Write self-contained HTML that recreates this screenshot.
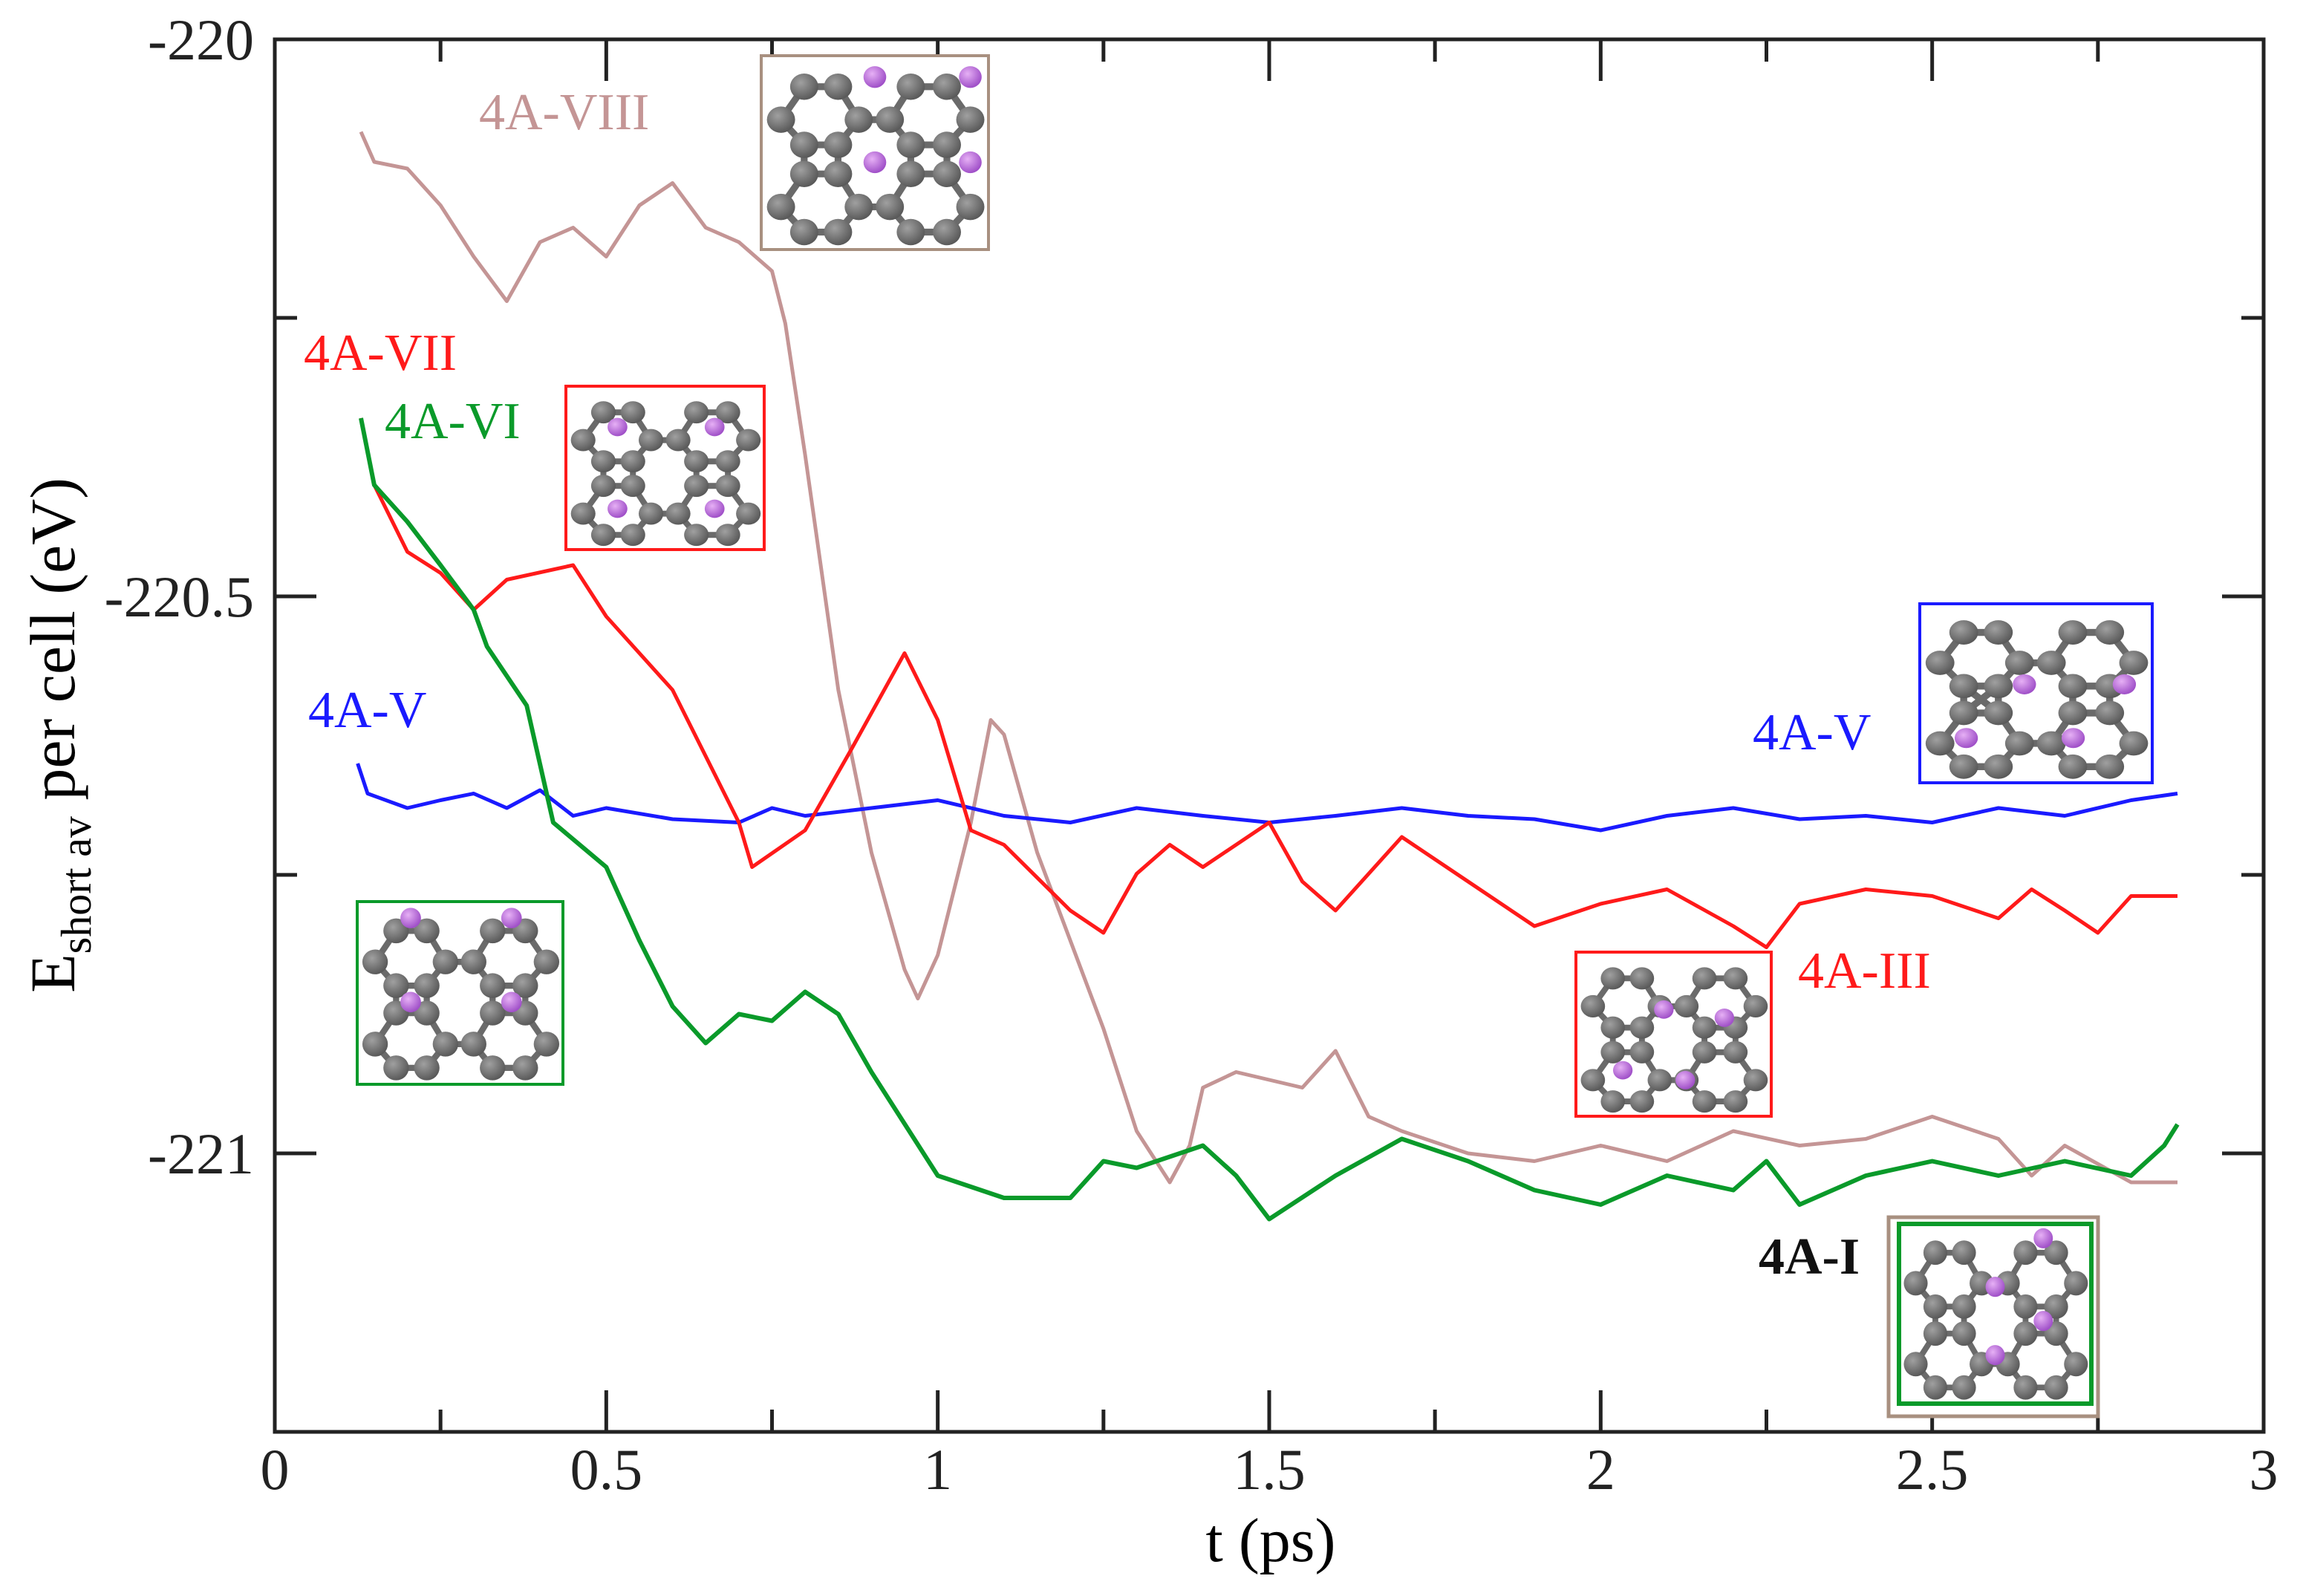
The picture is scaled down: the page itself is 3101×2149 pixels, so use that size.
<!DOCTYPE html>
<html><head><meta charset="utf-8"><style>
html,body{margin:0;padding:0;background:#fff;}
svg{display:block;}
text{font-family:"Liberation Serif",serif;}
</style></head><body>
<svg id="chart" width="3101" height="2149" viewBox="0 0 3101 2149" xmlns="http://www.w3.org/2000/svg">
<defs>
<radialGradient id="gC" cx="0.38" cy="0.35" r="0.65"><stop offset="0" stop-color="#a0a0a0"/><stop offset="1" stop-color="#5a5a5a"/></radialGradient>
<radialGradient id="gP" cx="0.38" cy="0.35" r="0.65"><stop offset="0" stop-color="#e6b0f5"/><stop offset="1" stop-color="#a050c8"/></radialGradient>
</defs>
<g id="plot"></g>
<text x="1711" y="2102" font-size="84" text-anchor="middle">t (ps)</text>
<text transform="translate(100,990) rotate(-90)" font-size="86" text-anchor="middle">E<tspan font-size="58" dy="22">short av</tspan><tspan dy="-22"> per cell (eV)</tspan></text>
</svg>
<script>
const tVIII=[0.13,0.15,0.2,0.25,0.3,0.35,0.4,0.45,0.5,0.55,0.6,0.65,0.7,0.75,0.77,0.8,0.85,0.9,0.95,0.97,1.0,1.05,1.08,1.1,1.15,1.2,1.25,1.3,1.35,1.38,1.4,1.45,1.5,1.55,1.6,1.65,1.7,1.8,1.9,2.0,2.1,2.2,2.3,2.4,2.5,2.6,2.65,2.7,2.8,2.87];
const eVIII=[-220.083,-220.110,-220.116,-220.149,-220.195,-220.235,-220.182,-220.169,-220.195,-220.149,-220.129,-220.169,-220.182,-220.208,-220.255,-220.373,-220.584,-220.730,-220.835,-220.861,-220.822,-220.703,-220.611,-220.624,-220.730,-220.809,-220.888,-220.980,-221.026,-220.993,-220.941,-220.927,-220.934,-220.941,-220.908,-220.967,-220.980,-221.000,-221.007,-220.993,-221.007,-220.980,-220.993,-220.987,-220.967,-220.987,-221.020,-220.993,-221.026,-221.026];
const tVII=[0.13,0.15,0.2,0.25,0.3,0.35,0.45,0.5,0.6,0.7,0.72,0.8,0.87,0.95,1.0,1.05,1.1,1.2,1.25,1.3,1.35,1.4,1.5,1.55,1.6,1.7,1.8,1.9,2.0,2.1,2.2,2.25,2.3,2.4,2.5,2.6,2.65,2.7,2.75,2.8,2.87];
const eVII=[-220.340,-220.400,-220.460,-220.479,-220.512,-220.485,-220.472,-220.518,-220.584,-220.703,-220.743,-220.710,-220.637,-220.551,-220.611,-220.710,-220.723,-220.782,-220.802,-220.749,-220.723,-220.743,-220.703,-220.756,-220.782,-220.716,-220.756,-220.796,-220.776,-220.763,-220.796,-220.815,-220.776,-220.763,-220.769,-220.789,-220.763,-220.782,-220.802,-220.769,-220.769];
const tVI=[0.13,0.15,0.2,0.25,0.3,0.32,0.38,0.42,0.5,0.55,0.6,0.65,0.7,0.75,0.8,0.85,0.9,1.0,1.1,1.2,1.25,1.3,1.4,1.45,1.5,1.6,1.7,1.8,1.9,2.0,2.1,2.2,2.25,2.3,2.4,2.5,2.6,2.7,2.8,2.85,2.87];
const eVI=[-220.340,-220.400,-220.433,-220.472,-220.512,-220.545,-220.598,-220.703,-220.743,-220.809,-220.868,-220.901,-220.875,-220.881,-220.855,-220.875,-220.927,-221.020,-221.040,-221.040,-221.007,-221.013,-220.993,-221.020,-221.059,-221.020,-220.987,-221.007,-221.033,-221.046,-221.020,-221.033,-221.007,-221.046,-221.020,-221.007,-221.020,-221.007,-221.020,-220.993,-220.974];
const tV=[0.125,0.14,0.2,0.25,0.3,0.35,0.4,0.45,0.5,0.6,0.7,0.75,0.8,0.9,1.0,1.1,1.2,1.3,1.4,1.5,1.6,1.7,1.8,1.9,2.0,2.1,2.2,2.3,2.4,2.5,2.6,2.7,2.8,2.87];
const eV=[-220.650,-220.677,-220.690,-220.683,-220.677,-220.690,-220.674,-220.697,-220.690,-220.700,-220.703,-220.690,-220.697,-220.690,-220.683,-220.697,-220.703,-220.690,-220.697,-220.703,-220.697,-220.690,-220.697,-220.700,-220.710,-220.697,-220.690,-220.700,-220.697,-220.703,-220.690,-220.697,-220.683,-220.677];
const xTicks=[0,0.5,1,1.5,2,2.5,3];
const xTickLabels=["0","0.5","1","1.5","2","2.5","3"];
const yTicks=[-220,-220.5,-221];
const yTickLabels=["-220","-220.5","-221"];

const X0=370,X1=3048,Y0=53,Y1=1928,TMIN=0,TMAX=3,EMAX=-220,EMIN=-221.25;
const NS="http://www.w3.org/2000/svg";
function xs(t){return X0+(t-TMIN)/(TMAX-TMIN)*(X1-X0);}
function ys(e){return Y0+(EMAX-e)/(EMAX-EMIN)*(Y1-Y0);}
const svg=document.getElementById('chart');
const plot=document.getElementById('plot');
function mk(tag,attrs,parent){const el=document.createElementNS(NS,tag);for(const k in attrs)el.setAttribute(k,attrs[k]);(parent||plot).appendChild(el);return el;}

function series(ts,es,color,name,w){
  let d='';ts.forEach((t,i)=>{d+=(i?'L':'M')+xs(t).toFixed(1)+','+ys(es[i]).toFixed(1);});
  const p=mk('path',{d:d,fill:'none',stroke:color,'stroke-width':w,'stroke-linejoin':'round'});
  
  
}
series(tVIII,eVIII,'#c49595','series-4a-viii',5);
series(tV,eV,'#1a1aff','series-4a-v',5);
series(tVII,eVII,'#ff1a1a','series-4a-vii-iii',5);
series(tVI,eVI,'#0a9a2a','series-4a-vi-i',6);

const fr=mk('rect',{x:X0,y:Y0,width:X1-X0,height:Y1-Y0,fill:'none',stroke:'#222','stroke-width':5});


for(let i=1;i<12;i++){
  const t=i*0.25,x=xs(t),L=(i%2==0)?56:30;
  const a=mk('line',{x1:x,y1:Y1,x2:x,y2:Y1-L,stroke:'#222','stroke-width':5});
  
  
  const b=mk('line',{x1:x,y1:Y0,x2:x,y2:Y0+L,stroke:'#222','stroke-width':5});
  
  
}
for(let i=1;i<5;i++){
  const e=-220-i*0.25,y=ys(e),L=(i%2==0)?56:30;
  const a=mk('line',{x1:X0,y1:y,x2:X0+L,y2:y,stroke:'#222','stroke-width':5});
  
  
  const b=mk('line',{x1:X1,y1:y,x2:X1-L,y2:y,stroke:'#222','stroke-width':5});
  
  
}
xTicks.forEach((t,i)=>{
  const tx=mk('text',{x:xs(t),y:2005,'font-size':78,'text-anchor':'middle',fill:'#222'},svg);
  tx.textContent=xTickLabels[i];
  
  
});
yTicks.forEach((e,i)=>{
  const tx=mk('text',{x:342,y:ys(e)+27,'font-size':78,'text-anchor':'end',fill:'#222'},svg);
  tx.textContent=yTickLabels[i];
  
  
});

function lab(txt,x,y,color,name,bold){
  const tx=mk('text',{x:x,y:y,'font-size':70,fill:color,'font-weight':bold?'bold':'normal'},svg);
  tx.textContent=txt;
  
  
}
lab('4A-VIII',645,174,'#c49595','label-4a-viii');
lab('4A-VII',409,498,'#ff1a1a','label-4a-vii');
lab('4A-VI',518,590,'#0a9a2a','label-4a-vi');
lab('4A-V',415,979,'#1a1aff','label-4a-v-left');
lab('4A-V',2360,1009,'#1a1aff','label-4a-v-right');
lab('4A-III',2421,1330,'#ff1a1a','label-4a-iii');
lab('4A-I',2368,1715,'#111','label-4a-i',true);

const AX=[.087,.189,.338,.429,.566,.658,.817,.920];
const atoms=[];
[[.16,[1,2,5,6]],[.33,[0,3,4,7]],[.46,[1,2,5,6]],[.61,[1,2,5,6]],[.78,[0,3,4,7]],[.91,[1,2,5,6]]].forEach(r=>r[1].forEach(i=>atoms.push([AX[i],r[0]])));
function inset(x,y,w,h,color,purple,name,outer){
  const g=mk('g',{},svg);
  
  
  if(outer) mk('rect',{x:outer[0],y:outer[1],width:outer[2],height:outer[3],fill:'#fff',stroke:'#a89080','stroke-width':5},g);
  mk('rect',{x:x,y:y,width:w,height:h,fill:'#fff',stroke:color,'stroke-width':outer?6:4},g);
  const P=atoms.map(a=>[x+a[0]*w,y+a[1]*h]);
  for(let i=0;i<P.length;i++)for(let j=i+1;j<P.length;j++){
    const dx=(atoms[i][0]-atoms[j][0]),dy=(atoms[i][1]-atoms[j][1]);
    if(Math.hypot(dx,dy*h/w)<0.19) mk('line',{x1:P[i][0],y1:P[i][1],x2:P[j][0],y2:P[j][1],stroke:'#6a6a6a','stroke-width':w*0.03},g);
  }
  P.forEach(p=>mk('ellipse',{cx:p[0],cy:p[1],rx:w*0.062,ry:h*0.068,fill:'url(#gC)'},g));
  purple.forEach(p=>mk('ellipse',{cx:x+p[0]*w,cy:y+p[1]*h,rx:w*0.05,ry:h*0.056,fill:'url(#gP)'},g));
}
inset(1025,75,306,261,'#a89080',[[.5,.11],[.92,.11],[.5,.55],[.92,.55]],'inset-4a-viii');
inset(762,520,267,220,'#ff1a1a',[[.26,.25],[.75,.25],[.26,.75],[.75,.75]],'inset-4a-vii');
inset(481,1214,277,246,'#0a9a2a',[[.26,.09],[.75,.09],[.26,.55],[.75,.55]],'inset-4a-vi');
inset(2585,813,313,241,'#1a1aff',[[.45,.45],[.88,.45],[.2,.75],[.66,.75]],'inset-4a-v');
inset(2122,1282,263,221,'#ff1a1a',[[.45,.35],[.76,.4],[.24,.72],[.56,.78]],'inset-4a-iii');
inset(2557,1648,259,242,'#0a9a2a',[[.5,.35],[.75,.08],[.75,.54],[.5,.73]],'inset-4a-i',[2543,1639,282,268]);
</script>
</body></html>
